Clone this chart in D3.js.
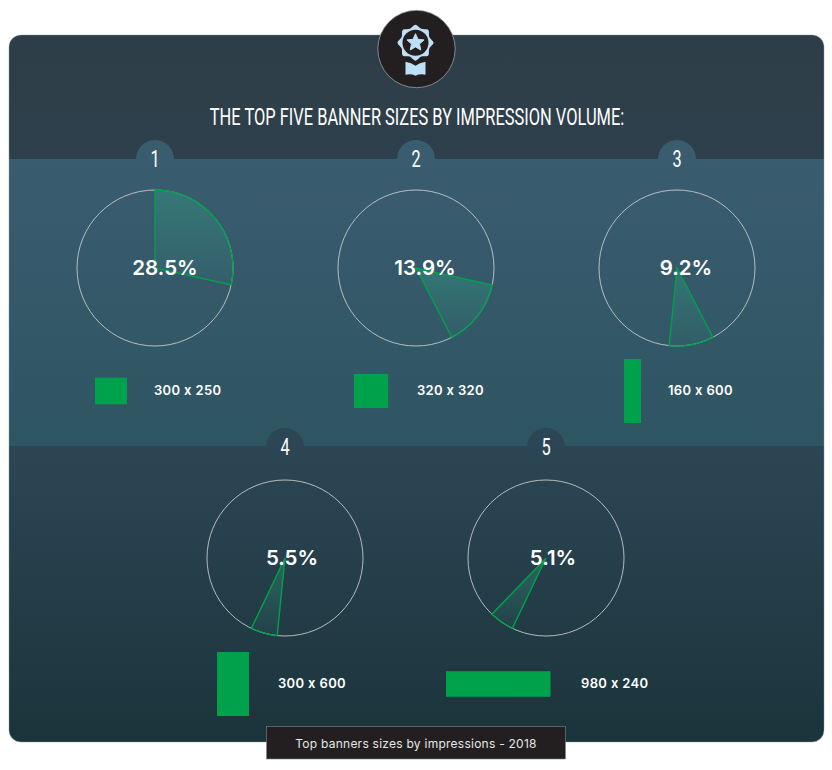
<!DOCTYPE html>
<html>
<head>
<meta charset="utf-8">
<script src="https://cdn.jsdelivr.net/npm/d3@7"></script>
<style>
  html, body { margin: 0; padding: 0; background: #fff; }
  svg { display: block; }
  .plain { font-feature-settings: "calt" 0, "liga" 0; }
</style>
</head>
<body>
<svg id="chart"></svg>
<script>
const bannerSizes = ["300 x 250", "320 x 320", "160 x 600", "300 x 600", "980 x 240"];
const impressionShares = [28.5, 13.9, 9.2, 5.5, 5.1];
const ranks = ["1", "2", "3", "4", "5"];
const bannerWidths = [300, 320, 160, 300, 980];
const bannerHeights = [250, 320, 600, 600, 240];
const titleText = "THE TOP FIVE BANNER SIZES BY IMPRESSION VOLUME:";
const footerText = "Top banners sizes by impressions - 2018";

const width = 832;
const height = 770;
const radius = 78;
const green = "#00a14b";

// layout per pie: centre, banner left edge + mid line, label x
const pieCenters = [[155, 268], [416, 268], [677, 268], [285, 558], [546, 558]];
const bannerLeft = [95, 354, 624, 217, 446];
const bannerMid = [391, 391, 391, 684, 684];
const labelX = [154, 417, 668, 278, 581];
const percentX = [165, 425, 686, 292, 553];

const svg = d3.select("#chart")
    .attr("width", width)
    .attr("height", height)
    .attr("viewBox", [0, 0, width, height]);

const defs = svg.append("defs");

function addGradient(id, stops) {
  const g = defs.append("linearGradient")
      .attr("id", id)
      .attr("x1", 0).attr("y1", 0).attr("x2", 0).attr("y2", 1);
  stops.forEach((s, i) => {
    g.append("stop")
        .attr("offset", i / (stops.length - 1))
        .attr("stop-color", s[0])
        .attr("stop-opacity", s[1]);
  });
}
addGradient("band-top", [["#2e3e49", 1], ["#2e404b", 1]]);
addGradient("band-mid", [["#3a5c6f", 1], ["#2e5562", 1]]);
addGradient("band-low", [["#2c4655", 1], ["#1b343b", 1]]);
addGradient("slice-fill", [["#2fa784", 0.38], ["#2fa784", 0.06]]);

defs.append("clipPath").attr("id", "card")
  .append("rect")
    .attr("x", 9).attr("y", 35)
    .attr("width", 815).attr("height", 707)
    .attr("rx", 12);

// background bands
const card = svg.append("g").attr("clip-path", "url(#card)");
card.append("rect").attr("x", 9).attr("y", 35).attr("width", 815).attr("height", 124).attr("fill", "url(#band-top)");
card.append("rect").attr("x", 9).attr("y", 159).attr("width", 815).attr("height", 287).attr("fill", "url(#band-mid)");
card.append("rect").attr("x", 9).attr("y", 446).attr("width", 815).attr("height", 296).attr("fill", "url(#band-low)");

svg.append("rect")
    .attr("x", 9).attr("y", 35)
    .attr("width", 815).attr("height", 707)
    .attr("rx", 12)
    .attr("fill", "none")
    .attr("stroke", "#8b989d")
    .attr("stroke-width", 0.4);

// medal badge
const badge = svg.append("g").attr("transform", "translate(416.5,49)");
badge.append("circle").attr("r", 38.7).attr("fill", "#231f20").attr("stroke", "#9aa0a3").attr("stroke-width", 0.8);
const medal = badge.append("g").attr("transform", "translate(-1,-6.3)");
const medalPoints = d3.range(0, 16).map(i => {
  const a = i / 16 * 2 * Math.PI;
  const r = i % 2 ? 15 : 18;
  return [r * Math.cos(a), r * Math.sin(a)];
});
medal.append("path")
    .attr("d", d3.line().curve(d3.curveCatmullRomClosed)(medalPoints))
    .attr("fill", "#bfdff5");
medal.append("circle").attr("r", 13).attr("fill", "#231f20");
const starPoints = d3.range(0, 10).map(i => {
  const a = i / 10 * 2 * Math.PI - Math.PI / 2;
  const r = i % 2 ? 4.2 : 9;
  return [r * Math.cos(a), r * Math.sin(a)];
});
medal.append("path")
    .attr("d", d3.line()(starPoints) + "Z")
    .attr("stroke", "#bfdff5")
    .attr("stroke-width", 1)
    .attr("stroke-linejoin", "round")
    .attr("fill", "#bfdff5");
medal.append("path")
    .attr("d", "M-10,19 Q-4,20 0,23 Q4,20 10,19 L10,32 Q4,31 0,33 Q-4,31 -10,32 Z")
    .attr("fill", "#bfdff5");

svg.append("text")
    .attr("transform", "translate(417,125) scale(0.685,1)")
    .attr("text-anchor", "middle")
    .attr("font-family", "Roboto")
    .attr("font-weight", 400)
    .attr("font-size", 24)
    .attr("fill", "#fff")
    .text(titleText);

// shares run on around the circle, so pie() gets the remainder as a last slice
const pie = d3.pie().sort(null).value(d => d);
const remainder = 100 - d3.sum(impressionShares);
const slices = pie(impressionShares.concat([remainder])).slice(0, impressionShares.length);
const arc = d3.arc().innerRadius(0).outerRadius(radius);

// swatches are drawn to scale from the banner's pixel size
const bannerScale = d3.scaleLinear().domain([0, 600]).range([0, 64]);

const groups = svg.selectAll("g.pie")
    .data(impressionShares)
    .join("g")
    .attr("class", "pie");

// number tabs
groups.append("path")
    .attr("d", (d, i) => {
      const cx = pieCenters[i][0];
      const cy = i < 3 ? 159 : 447;
      return `M${cx - 19},${cy} A19,19 0 0 1 ${cx + 19},${cy} Z`;
    })
    .attr("fill", (d, i) => i < 3 ? "#3a5c6f" : "#2c4655");

groups.append("text")
    .attr("transform", (d, i) => {
      const cx = pieCenters[i][0];
      const cy = i < 3 ? 167 : 455;
      return `translate(${cx},${cy}) scale(0.68,1)`;
    })
    .attr("text-anchor", "middle")
    .attr("font-family", "Roboto")
    .attr("font-weight", 400)
    .attr("font-size", 24)
    .attr("fill", "#fff")
    .text((d, i) => ranks[i]);

groups.append("circle")
    .attr("cx", (d, i) => pieCenters[i][0])
    .attr("cy", (d, i) => pieCenters[i][1])
    .attr("r", radius)
    .attr("fill", "none")
    .attr("stroke", "#c3c9cb")
    .attr("stroke-width", 0.9);

groups.append("path")
    .attr("transform", (d, i) => `translate(${pieCenters[i][0]},${pieCenters[i][1]})`)
    .attr("d", (d, i) => arc(slices[i]))
    .attr("fill", "url(#slice-fill)")
    .attr("stroke", green)
    .attr("stroke-width", 1.4);

groups.append("text")
    .attr("class", "plain")
    .attr("x", (d, i) => percentX[i])
    .attr("y", (d, i) => pieCenters[i][1] + 7)
    .attr("text-anchor", "middle")
    .attr("font-family", "Inter")
    .attr("font-weight", 600)
    .attr("font-size", 20.5)
    .attr("fill", "#fff")
    .text(d => d + "%");

// banner swatches
groups.append("rect")
    .attr("x", (d, i) => bannerLeft[i])
    .attr("y", (d, i) => bannerMid[i] - bannerScale(bannerHeights[i]) / 2)
    .attr("width", (d, i) => bannerScale(bannerWidths[i]))
    .attr("height", (d, i) => bannerScale(bannerHeights[i]))
    .attr("fill", green);

groups.append("text")
    .attr("class", "plain")
    .attr("x", (d, i) => labelX[i])
    .attr("y", (d, i) => bannerMid[i] + 4)
    .attr("font-family", "Inter")
    .attr("font-weight", 600)
    .attr("font-size", 13)
    .attr("letter-spacing", 0.35)
    .attr("fill", "#fff")
    .text((d, i) => bannerSizes[i]);

// footer box
svg.append("rect")
    .attr("x", 266.5).attr("y", 726.5)
    .attr("width", 299).attr("height", 32.5)
    .attr("fill", "#231f20")
    .attr("stroke", "#7d8a90")
    .attr("stroke-width", 0.6);
svg.append("text")
    .attr("x", 416).attr("y", 748)
    .attr("text-anchor", "middle")
    .attr("font-family", "Inter")
    .attr("font-size", 12)
    .attr("letter-spacing", 0.25)
    .attr("fill", "#e6e7e8")
    .text(footerText);
</script>
</body>
</html>
